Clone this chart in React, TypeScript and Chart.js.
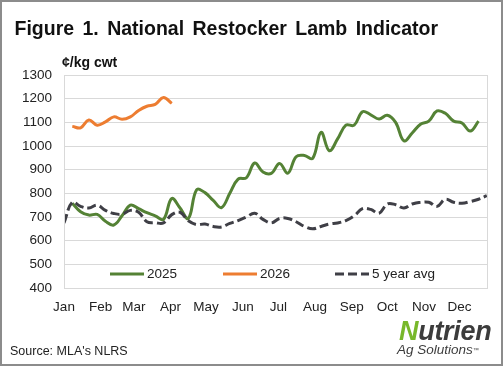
import React, { useEffect, useRef } from "react";
import { Chart, registerables } from "chart.js";

Chart.register(...registerables);

// Month tick positions (day of year) and labels
const MONTH_DAYS = [0, 31, 59, 90, 120, 151, 181, 212, 243, 273, 304, 334];
const MONTH_LABELS = ["Jan", "Feb", "Mar", "Apr", "May", "Jun", "Jul", "Aug", "Sep", "Oct", "Nov", "Dec"];

// Weekly series (c/kg cwt). First week index of each series.
const WEEK_LEN = 7;
const START_2025 = 1;
const START_2026 = 1;
const START_AVG = 0;

const S2025 = [
  758, 722, 708, 711, 682, 666, 705, 750, 735, 718,
  705, 690, 778, 738, 694, 815, 803, 770, 740, 800,
  860, 866, 928, 890, 884, 926, 885, 955, 960, 948,
  1058, 980, 1030, 1088, 1088, 1145, 1132, 1114, 1130, 1100,
  1022, 1055, 1092, 1105, 1148, 1138, 1105, 1097, 1063, 1105,
];
const S2026 = [1083, 1077, 1110, 1088, 1102, 1123, 1113, 1123, 1150, 1168, 1176, 1205, 1180];
const S_AVG = [
  675, 762, 745, 738, 750, 728, 715, 712, 728, 720,
  680, 676, 675, 710, 720, 684, 668, 670, 660, 658,
  673, 685, 700, 716, 690, 675, 694, 694, 680, 660,
  650, 660, 670, 675, 685, 705, 735, 732, 716, 755,
  752, 738, 755, 762, 762, 745, 775, 762, 758, 765,
  775, 790,
];

const Y_MIN = 400;
const Y_MAX = 1300;
const Y_STEP = 100;
const X_MAX = 358;

const FONT = "'Liberation Sans', Arial, sans-serif";
const GREEN = "#548235";
const ORANGE = "#ED7D31";
const DARK = "#3f3f46";
const GRID = "#d9d9d9";

const toPoints = (vals: number[], start: number) =>
  vals.map((v, i) => ({ x: (start + i) * WEEK_LEN, y: v }));

const legendItems = [
  { label: "2025", color: GREEN, dash: [] as number[], x: 46 },
  { label: "2026", color: ORANGE, dash: [] as number[], x: 159 },
  { label: "5 year avg", color: DARK, dash: [9, 4], x: 271 },
];

const framePlugin = {
  id: "frameAndLegend",
  afterDraw(chart: any) {
    const { ctx, chartArea } = chart;
    ctx.save();
    ctx.strokeStyle = GRID;
    ctx.lineWidth = 1;
    ctx.strokeRect(
      Math.round(chartArea.left) + 0.5,
      Math.round(chartArea.top) + 0.5,
      Math.round(chartArea.right - chartArea.left) - 1,
      Math.round(chartArea.bottom - chartArea.top)
    );
    const y = chartArea.bottom - 14;
    ctx.font = `13.5px ${FONT}`;
    ctx.textBaseline = "middle";
    ctx.fillStyle = "#222";
    legendItems.forEach((it) => {
      const x0 = chartArea.left + it.x;
      ctx.beginPath();
      ctx.setLineDash(it.dash);
      ctx.lineWidth = 3;
      ctx.strokeStyle = it.color;
      ctx.moveTo(x0, y);
      ctx.lineTo(x0 + 34, y);
      ctx.stroke();
      ctx.setLineDash([]);
      ctx.fillText(it.label, x0 + 37, y + 0.5);
    });
    ctx.restore();
  },
};

export default function App() {
  const ref = useRef<HTMLCanvasElement | null>(null);

  useEffect(() => {
    if (!ref.current) return;
    const chart = new Chart(ref.current, {
      type: "line",
      data: {
        datasets: [
          {
            label: "5 year avg",
            data: toPoints(S_AVG, START_AVG),
            borderColor: DARK,
            borderWidth: 3,
            borderDash: [9, 4],
            pointRadius: 0,
            tension: 0.4,
            fill: false,
          },
          {
            label: "2025",
            data: toPoints(S2025, START_2025),
            borderColor: GREEN,
            borderWidth: 3,
            pointRadius: 0,
            tension: 0.4,
            fill: false,
          },
          {
            label: "2026",
            data: toPoints(S2026, START_2026),
            borderColor: ORANGE,
            borderWidth: 3,
            pointRadius: 0,
            tension: 0.4,
            fill: false,
          },
        ],
      },
      options: {
        animation: false,
        responsive: false,
        maintainAspectRatio: false,
        devicePixelRatio: 1,
        layout: { padding: { top: 75, right: 15, left: 0, bottom: 0 } },
        plugins: { legend: { display: false }, tooltip: { enabled: false }, title: { display: false } },
        scales: {
          x: {
            type: "linear",
            min: 0,
            max: X_MAX,
            grid: { display: false, drawTicks: false },
            border: { display: false },
            ticks: {
              autoSkip: false,
              maxRotation: 0,
              padding: 11,
              color: "#222",
              font: { family: FONT, size: 13.5 },
              callback: (v: any) => {
                const i = MONTH_DAYS.indexOf(Number(v));
                return i >= 0 ? MONTH_LABELS[i] : "";
              },
            },
            afterBuildTicks: (s: any) => {
              s.ticks = MONTH_DAYS.map((d) => ({ value: d }));
            },
            afterFit: (s: any) => {
              s.height = 78;
            },
          },
          y: {
            min: Y_MIN,
            max: Y_MAX,
            grid: { color: GRID, drawTicks: false, lineWidth: 1 },
            border: { color: GRID },
            ticks: {
              stepSize: Y_STEP,
              padding: 12,
              color: "#222",
              font: { family: FONT, size: 13.5 },
              callback: (v: any) => String(v),
            },
            afterFit: (s: any) => {
              s.width = 64;
            },
          },
        },
      },
      plugins: [framePlugin],
    } as any);
    return () => chart.destroy();
  }, []);

  const abs: React.CSSProperties = { position: "absolute", whiteSpace: "nowrap", fontFamily: FONT };

  return (
    <div style={{ position: "absolute", left: 0, top: 0, width: 503, height: 366, background: "#fff", overflow: "hidden" }}>
      <canvas ref={ref} width={503} height={366} style={{ position: "absolute", left: 0, top: 0, width: 503, height: 366 }} />
      <div style={{ ...abs, left: 14.5, top: 17.5, fontSize: 19.5, lineHeight: "20px", fontWeight: "bold", color: "#111", wordSpacing: 3 }}>
        Figure 1. National Restocker Lamb Indicator
      </div>
      <div style={{ ...abs, left: 62, top: 54.6, fontSize: 14, lineHeight: "14px", fontWeight: "bold", color: "#111" }}>
        ¢/kg cwt
      </div>
      <div style={{ ...abs, left: 10, top: 344.9, fontSize: 12.5, lineHeight: "13px", color: "#222" }}>
        Source: MLA's NLRS
      </div>
      <div style={{ ...abs, left: 399, top: 317.9, fontSize: 27, lineHeight: "27px", fontWeight: "bold", fontStyle: "italic", color: "#3c3c3c", letterSpacing: -0.3 }}>
        <span style={{ color: "#78b82a" }}>N</span>utrien
      </div>
      <div style={{ ...abs, left: 397, top: 343.2, fontSize: 13.5, lineHeight: "14px", fontStyle: "italic", color: "#3c3c3c" }}>
        Ag Solutions<span style={{ fontSize: 6, verticalAlign: "top" }}>™</span>
      </div>
      <div style={{ position: "absolute", left: 0, top: 0, width: 503, height: 366, boxSizing: "border-box", border: "2px solid #8c8c8c", pointerEvents: "none" }} />
    </div>
  );
}
